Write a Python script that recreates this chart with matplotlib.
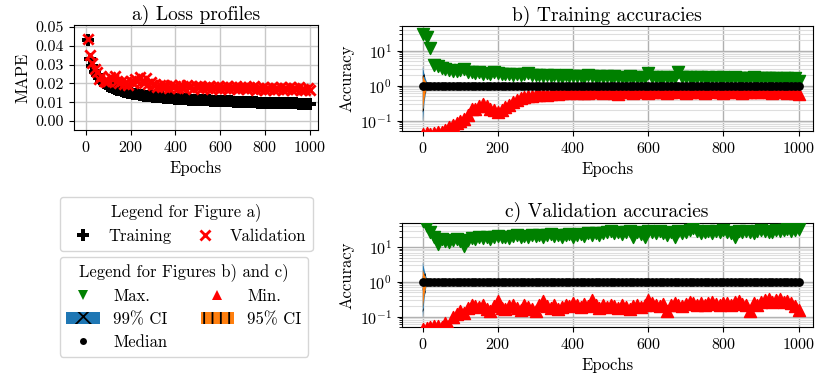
import matplotlib
matplotlib.use('Agg')
import matplotlib.pyplot as plt
import matplotlib.patches as mpatches
import matplotlib.lines as mlines

plt.rcParams['font.family'] = ['cmr10', 'DejaVu Serif']
plt.rcParams['mathtext.fontset'] = 'cm'
plt.rcParams['axes.formatter.use_mathtext'] = True
plt.rcParams['axes.unicode_minus'] = False
plt.rcParams['hatch.linewidth'] = 1.3

# ---- a) loss profiles, epochs 10..1000 every 10 ----
loss_epochs = list(range(10, 1001, 10))
train_loss = [
    0.0430, 0.0330, 0.0290, 0.0262, 0.0242, 0.0226, 0.0213, 0.0203, 0.0194, 0.0187,
    0.0181, 0.0175, 0.0170, 0.0166, 0.0162, 0.0158, 0.0155, 0.0152, 0.0149, 0.0147,
    0.0145, 0.0143, 0.0141, 0.0139, 0.0137, 0.0135, 0.0134, 0.0132, 0.0131, 0.0130,
    0.0128, 0.0127, 0.0126, 0.0125, 0.0124, 0.0123, 0.0122, 0.0121, 0.0120, 0.0119,
    0.0118, 0.0117, 0.0117, 0.0116, 0.0115, 0.0114, 0.0114, 0.0113, 0.0112, 0.0112,
    0.0111, 0.0110, 0.0110, 0.0109, 0.0109, 0.0108, 0.0108, 0.0107, 0.0107, 0.0106,
    0.0106, 0.0105, 0.0105, 0.0104, 0.0104, 0.0103, 0.0103, 0.0102, 0.0102, 0.0101,
    0.0101, 0.0100, 0.0100, 0.0099, 0.0099, 0.0099, 0.0098, 0.0098, 0.0097, 0.0097,
    0.0097, 0.0096, 0.0096, 0.0096, 0.0095, 0.0095, 0.0095, 0.0094, 0.0094, 0.0094,
    0.0093, 0.0093, 0.0093, 0.0093, 0.0092, 0.0092, 0.0092, 0.0092, 0.0091, 0.0091]
val_loss = [
    0.0435, 0.0350, 0.0310, 0.0275, 0.0260, 0.0225, 0.0240, 0.0215, 0.0205, 0.0210,
    0.0235, 0.0225, 0.0240, 0.0210, 0.0200, 0.0215, 0.0195, 0.0205, 0.0190, 0.0215,
    0.0200, 0.0225, 0.0210, 0.0235, 0.0215, 0.0200, 0.0230, 0.0195, 0.0205, 0.0190,
    0.0195, 0.0182, 0.0190, 0.0178, 0.0192, 0.0185, 0.0175, 0.0190, 0.0180, 0.0188,
    0.0176, 0.0189, 0.0181, 0.0174, 0.0190, 0.0178, 0.0185, 0.0172, 0.0186, 0.0179,
    0.0187, 0.0173, 0.0182, 0.0176, 0.0188, 0.0170, 0.0181, 0.0177, 0.0185, 0.0172,
    0.0183, 0.0175, 0.0186, 0.0169, 0.0180, 0.0176, 0.0184, 0.0171, 0.0179, 0.0174,
    0.0182, 0.0168, 0.0178, 0.0173, 0.0184, 0.0167, 0.0177, 0.0172, 0.0181, 0.0166,
    0.0176, 0.0170, 0.0183, 0.0165, 0.0175, 0.0171, 0.0180, 0.0164, 0.0174, 0.0169,
    0.0179, 0.0163, 0.0173, 0.0168, 0.0178, 0.0162, 0.0172, 0.0167, 0.0176, 0.0165]

# ---- b) / c) accuracies, epochs 0..1000 every 10 ----
acc_epochs = list(range(0, 1001, 10))
train_max = [
    30, 25, 12, 4.0, 3.6, 3.2, 3.0, 2.8, 2.7, 2.6,
    2.8, 3.0, 2.5, 2.4, 2.3, 2.4, 2.2, 2.3, 2.2, 2.4,
    2.3, 2.2, 2.1, 2.2, 2.0, 2.1, 2.0, 2.2, 2.3, 2.0,
    1.95, 2.0, 1.9, 1.95, 1.85, 2.0, 1.9, 1.8, 1.95, 1.85,
    1.9, 1.85, 1.9, 1.8, 1.95, 1.85, 1.8, 1.9, 1.75, 1.85,
    1.8, 1.85, 1.75, 1.8, 1.7, 1.85, 1.75, 1.8, 1.7, 1.8,
    2.3, 1.8, 1.75, 1.7, 1.8, 1.75, 1.7, 1.8, 2.5, 1.75,
    1.8, 1.75, 1.7, 1.8, 1.75, 1.65, 1.75, 1.7, 1.8, 1.7,
    1.75, 1.7, 1.65, 1.75, 1.7, 1.6, 1.7, 1.65, 1.75, 1.6,
    1.7, 1.65, 1.6, 1.7, 1.65, 1.55, 1.65, 1.6, 1.55, 1.6,
    1.4]
train_min = [
    0.042, 0.045, 0.042, 0.044, 0.046, 0.048, 0.055, 0.065, 0.075, 0.085,
    0.10, 0.11, 0.14, 0.21, 0.22, 0.26, 0.30, 0.26, 0.22, 0.20,
    0.18, 0.20, 0.24, 0.28, 0.34, 0.40, 0.44, 0.48, 0.50, 0.52,
    0.54, 0.55, 0.57, 0.55, 0.59, 0.61, 0.58, 0.62, 0.64, 0.60,
    0.64, 0.62, 0.66, 0.63, 0.60, 0.66, 0.64, 0.67, 0.61, 0.65,
    0.67, 0.63, 0.57, 0.65, 0.68, 0.64, 0.61, 0.67, 0.65, 0.69,
    0.63, 0.67, 0.64, 0.69, 0.65, 0.61, 0.67, 0.70, 0.65, 0.68,
    0.63, 0.66, 0.69, 0.64, 0.67, 0.61, 0.68, 0.65, 0.70, 0.66,
    0.63, 0.67, 0.65, 0.69, 0.64, 0.61, 0.67, 0.65, 0.69, 0.66,
    0.64, 0.68, 0.65, 0.62, 0.67, 0.69, 0.65, 0.63, 0.67, 0.61,
    0.58]
train_median = [1.0] * len(acc_epochs)

val_max = [
    55, 40, 28, 20, 12, 17, 15, 14, 16, 17,
    15, 11, 16, 18, 17, 19, 18, 20, 17, 19,
    21, 19, 20, 18, 21, 22, 19, 21, 20, 22,
    21, 23, 20, 22, 24, 21, 22, 20, 23, 24,
    19, 22, 24, 21, 25, 23, 26, 22, 25, 27,
    30, 26, 28, 24, 27, 29, 20, 27, 24, 19,
    30, 27, 25, 29, 26, 22, 28, 20, 30, 26,
    28, 31, 35, 29, 25, 28, 30, 26, 29, 27,
    31, 28, 26, 20, 29, 27, 30, 28, 26, 29,
    31, 30, 28, 27, 32, 29, 31, 33, 30, 32,
    34]
val_min = [
    0.045, 0.048, 0.050, 0.052, 0.055, 0.050, 0.065, 0.055, 0.10, 0.12,
    0.14, 0.13, 0.18, 0.22, 0.20, 0.19, 0.21, 0.17, 0.14, 0.20,
    0.28, 0.18, 0.16, 0.20, 0.22, 0.18, 0.15, 0.21, 0.19, 0.16,
    0.14, 0.22, 0.28, 0.20, 0.18, 0.21, 0.17, 0.19, 0.22, 0.20,
    0.24, 0.21, 0.19, 0.23, 0.20, 0.29, 0.22, 0.18, 0.21, 0.19,
    0.22, 0.20, 0.18, 0.21, 0.19, 0.17, 0.20, 0.22, 0.19, 0.21,
    0.30, 0.24, 0.22, 0.20, 0.23, 0.14, 0.21, 0.25, 0.22, 0.20,
    0.23, 0.26, 0.24, 0.22, 0.25, 0.21, 0.24, 0.27, 0.23, 0.22,
    0.25, 0.24, 0.22, 0.26, 0.28, 0.23, 0.21, 0.14, 0.24, 0.22,
    0.27, 0.30, 0.33, 0.27, 0.29, 0.31, 0.26, 0.28, 0.24, 0.20,
    0.15]
val_median = [1.0] * len(acc_epochs)

# confidence intervals only open up over the first epochs
ci_epochs = [0, 5, 10, 15, 20]
train_ci99_lo = [0.093, 0.35, 0.75, 0.92, 0.98]
train_ci99_hi = [3.4, 2.0, 1.35, 1.1, 1.02]
train_ci95_lo = [0.18, 0.45, 0.82, 0.95, 0.99]
train_ci95_hi = [2.0, 1.5, 1.2, 1.05, 1.01]
val_ci99_lo = [0.093, 0.35, 0.75, 0.92, 0.98]
val_ci99_hi = [3.6, 2.1, 1.35, 1.1, 1.02]
val_ci95_lo = [0.17, 0.45, 0.82, 0.95, 0.99]
val_ci95_hi = [2.2, 1.55, 1.2, 1.05, 1.01]

C_BLUE = '#1f77b4'
C_ORANGE = '#ff7f0e'
TRI = 75
DOT = 40
FS_TICK = 11.5
FS_LAB = 12
FS_TITLE = 14


def plot_acc(ax, mx, mn, med, c99, c95, title):
    ax.scatter(acc_epochs, mx, marker='v', color='green', s=TRI, lw=1, zorder=3)
    ax.scatter(acc_epochs, mn, marker='^', color='red', s=TRI, lw=1, zorder=3)
    ax.fill_between(ci_epochs, c99[0], c99[1], facecolor=C_BLUE, edgecolor='black',
                    hatch='x', lw=0, zorder=4)
    ax.fill_between(ci_epochs, c95[0], c95[1], facecolor=C_ORANGE, edgecolor='black',
                    hatch='||', lw=0, zorder=4)
    ax.scatter(acc_epochs, med, marker='o', color='black', s=DOT, lw=0, zorder=5)
    ax.set_yscale('log')
    ax.set_ylim(0.05, 50)
    ax.set_xlim(-56, 1037)
    ax.set_xticks([0, 200, 400, 600, 800, 1000])
    ax.grid(which='major', color='#b0b0b0', lw=1.0)
    ax.grid(which='minor', axis='y', color='#dedede', lw=0.8)
    ax.set_xlabel('Epochs', fontsize=FS_LAB)
    ax.set_ylabel('Accuracy', fontsize=FS_LAB)
    ax.set_title(title, fontsize=FS_TITLE, pad=4)
    ax.tick_params(labelsize=FS_TICK)


fig = plt.figure(figsize=(8.3, 3.8), dpi=100)

ax_a = fig.add_axes([0.089, 0.658, 0.294, 0.276])
ax_a.scatter(loss_epochs, train_loss, marker='P', color='black', s=75, lw=0, zorder=3)
ax_a.scatter(loss_epochs, val_loss, marker='x', color='red', s=55, lw=2, zorder=4)
ax_a.set_xlim(-53, 1036)
ax_a.set_ylim(-0.0048, 0.051)
ax_a.set_xticks([0, 200, 400, 600, 800, 1000])
ax_a.set_yticks([0.0, 0.01, 0.02, 0.03, 0.04, 0.05])
ax_a.set_yticklabels(['0.00', '0.01', '0.02', '0.03', '0.04', '0.05'])
ax_a.grid(color='#c8c8c8', lw=1.0)
ax_a.set_xlabel('Epochs', fontsize=FS_LAB)
ax_a.set_ylabel('MAPE', fontsize=FS_LAB)
ax_a.set_title('a) Loss profiles', fontsize=FS_TITLE, pad=4)
ax_a.tick_params(labelsize=FS_TICK)

ax_b = fig.add_axes([0.484, 0.655, 0.495, 0.276])
plot_acc(ax_b, train_max, train_min, train_median,
         (train_ci99_lo, train_ci99_hi), (train_ci95_lo, train_ci95_hi),
         'b) Training accuracies')

ax_c = fig.add_axes([0.484, 0.1395, 0.495, 0.274])
plot_acc(ax_c, val_max, val_min, val_median,
         (val_ci99_lo, val_ci99_hi), (val_ci95_lo, val_ci95_hi),
         'c) Validation accuracies')

# legends
h_train = mlines.Line2D([], [], marker='P', color='black', ls='none', markersize=8.5, mew=0)
h_val = mlines.Line2D([], [], marker='x', color='red', ls='none', markersize=7, mew=2)
fig.legend([h_train, h_val], ['Training', 'Validation'], ncol=2,
           title='Legend for Figure a)', loc='upper left',
           bbox_to_anchor=(0.072, 0.482), fontsize=12, title_fontsize=12,
           columnspacing=1.0, handletextpad=0.5, borderaxespad=0,
           labelspacing=0.45)

h_max = mlines.Line2D([], [], marker='v', color='green', ls='none', markersize=7.5, mew=0)
h_min = mlines.Line2D([], [], marker='^', color='red', ls='none', markersize=7.5, mew=0)
h_99 = mpatches.Patch(facecolor=C_BLUE, edgecolor='black', hatch='x', lw=0)
h_95 = mpatches.Patch(facecolor=C_ORANGE, edgecolor='black', hatch='||', lw=0)
h_med = mlines.Line2D([], [], marker='o', color='black', ls='none', markersize=5, mew=0)
fig.legend([h_max, h_99, h_med, h_min, h_95],
           ['Max.', '99% CI', 'Median', 'Min.', '95% CI'], ncol=2,
           title='Legend for Figures b) and c)', loc='upper left',
           bbox_to_anchor=(0.072, 0.324), fontsize=12, title_fontsize=12,
           columnspacing=2.0, handletextpad=0.8, borderaxespad=0,
           labelspacing=0.45)

fig.savefig('out.png', dpi=100)
